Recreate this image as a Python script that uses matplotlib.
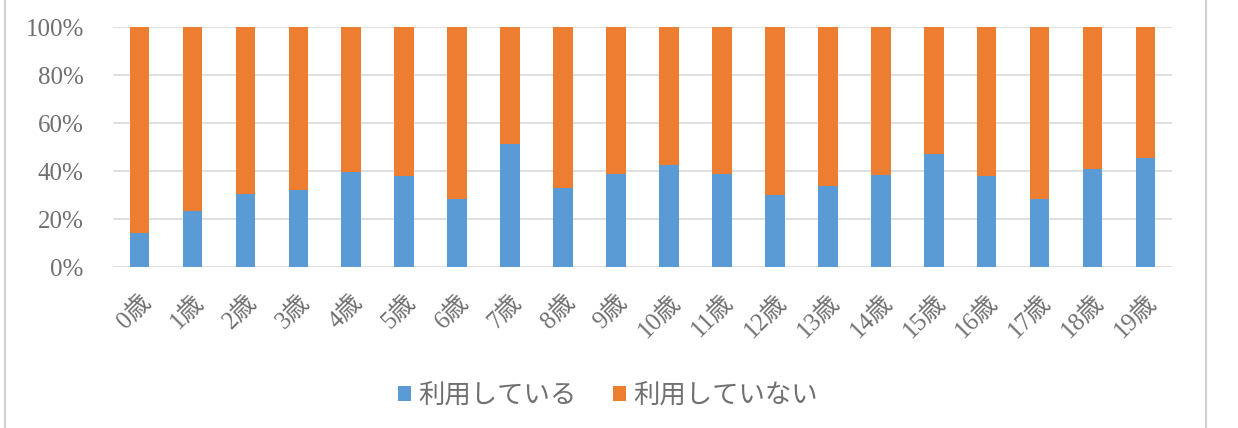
import matplotlib.pyplot as plt
from matplotlib.ticker import PercentFormatter

ages = [f"{i}歳" for i in range(20)]
using = [14.3, 23.3, 30.6, 32.2, 39.4, 37.8, 28.5, 51.4, 32.9, 38.9,
         42.4, 38.9, 29.9, 33.6, 38.5, 47.2, 37.8, 28.2, 40.7, 45.6]
not_using = [100 - v for v in using]

blue = "#5B9BD5"
orange = "#ED7D31"
gray_text = "#707070"

plt.rcParams['font.family'] = ['Liberation Serif', 'Noto Sans CJK JP']

fig = plt.figure(figsize=(12.38, 4.28), dpi=100)
ax = fig.add_axes([113 / 1238, 1 - 267 / 428, (1172 - 113) / 1238, 240 / 428])

x = range(len(ages))
ax.bar(x, using, width=0.37, color=blue, label="利用している", zorder=3)
ax.bar(x, not_using, bottom=using, width=0.37, color=orange, label="利用していない", zorder=3)

ax.set_ylim(0, 100)
ax.set_xlim(-0.5, len(ages) - 0.5)
ax.set_yticks(range(0, 101, 20))
ax.yaxis.set_major_formatter(PercentFormatter(decimals=0))
ax.yaxis.grid(True, color="#D9D9D9", linewidth=1.2, zorder=0)
ax.set_xticks(list(x))
ax.set_xticklabels(ages, rotation=45, ha="right", rotation_mode="anchor")
for s in ax.spines.values():
    s.set_visible(False)
ax.tick_params(axis="both", length=0, colors=gray_text)
ax.tick_params(axis="y", labelsize=18, pad=21)
ax.tick_params(axis="x", labelsize=18, pad=17)

leg = fig.legend(loc="center", bbox_to_anchor=(608 / 1238, 1 - 395 / 428), ncol=2,
                 frameon=False, handlelength=0.5, handleheight=0.5, handletextpad=0.25,
                 columnspacing=1.4, prop={'family': ['Noto Sans CJK JP'], 'size': 19})
for t in leg.get_texts():
    t.set_color(gray_text)

# outer frame lines
fig.add_artist(plt.Line2D([5 / 1238, 5 / 1238], [0, 1], color="#D0D0D0", lw=1.5))
fig.add_artist(plt.Line2D([1206 / 1238, 1206 / 1238], [0, 1], color="#D0D0D0", lw=1.5))

fig.savefig("out.png", dpi=100)
